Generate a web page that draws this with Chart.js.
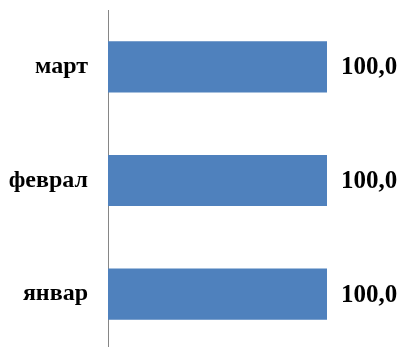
<!DOCTYPE html>
<html>
<head>
<meta charset="utf-8">
<script src="https://cdn.jsdelivr.net/npm/chart.js@4"></script>
<style>
  html, body { margin: 0; padding: 0; background: #fff; overflow: hidden; }
  #wrap { position: relative; width: 403px; height: 352px; }
</style>
</head>
<body>
<div id="wrap"><canvas id="grafico"></canvas></div>
<script>
// dados
const meses = ['март', 'феврал', 'январ'];
const valores = [100.0, 100.0, 100.0];
const corBarra = '#4F81BD';
const fonteSerif = "'Liberation Serif', 'Times New Roman', serif";

// rótulos de valor ao lado das barras (formato "100,0")
const rotulosValor = {
    id: 'rotulosValor',
    afterDatasetsDraw(chart) {
        const ctx = chart.ctx;
        const meta = chart.getDatasetMeta(0);
        ctx.save();
        ctx.font = 'bold 25px ' + fonteSerif;
        ctx.fillStyle = '#000';
        ctx.textAlign = 'left';
        ctx.textBaseline = 'middle';
        meta.data.forEach(function(bar, i) {
            const txt = valores[i].toFixed(1).replace('.', ',');
            ctx.fillText(txt, bar.x + 14, bar.y + 1);
        });
        ctx.restore();
    }
};

document.addEventListener('DOMContentLoaded', function() {
    const ctx = document.getElementById('grafico').getContext('2d');

    new Chart(ctx, {
        type: 'bar',
        data: {
            labels: meses,
            datasets: [{ data: valores, backgroundColor: corBarra, barPercentage: 0.45, categoryPercentage: 1.0 }]
        },
        options: {
            indexAxis: 'y',
            responsive: true,
            maintainAspectRatio: false,
            animation: false,
            layout: { padding: { top: 10, right: 76, bottom: 1, left: 0 } },
            plugins: { legend: { display: false }, tooltip: { enabled: false } },
            scales: {
                x: { display: false, min: 0, max: 100 },
                y: {
                    afterFit: function(scale) {
                        scale.width = 108;
                        scale.paddingTop = 0;
                        scale.paddingBottom = 0;
                    },
                    grid: { display: false, drawTicks: false },
                    border: { display: true, color: '#868686', width: 1 },
                    ticks: {
                        padding: 20,
                        color: '#000',
                        font: { family: fonteSerif, weight: 'bold', size: 24 }
                    }
                }
            }
        },
        plugins: [rotulosValor]
    });
});
</script>
</body>
</html>
